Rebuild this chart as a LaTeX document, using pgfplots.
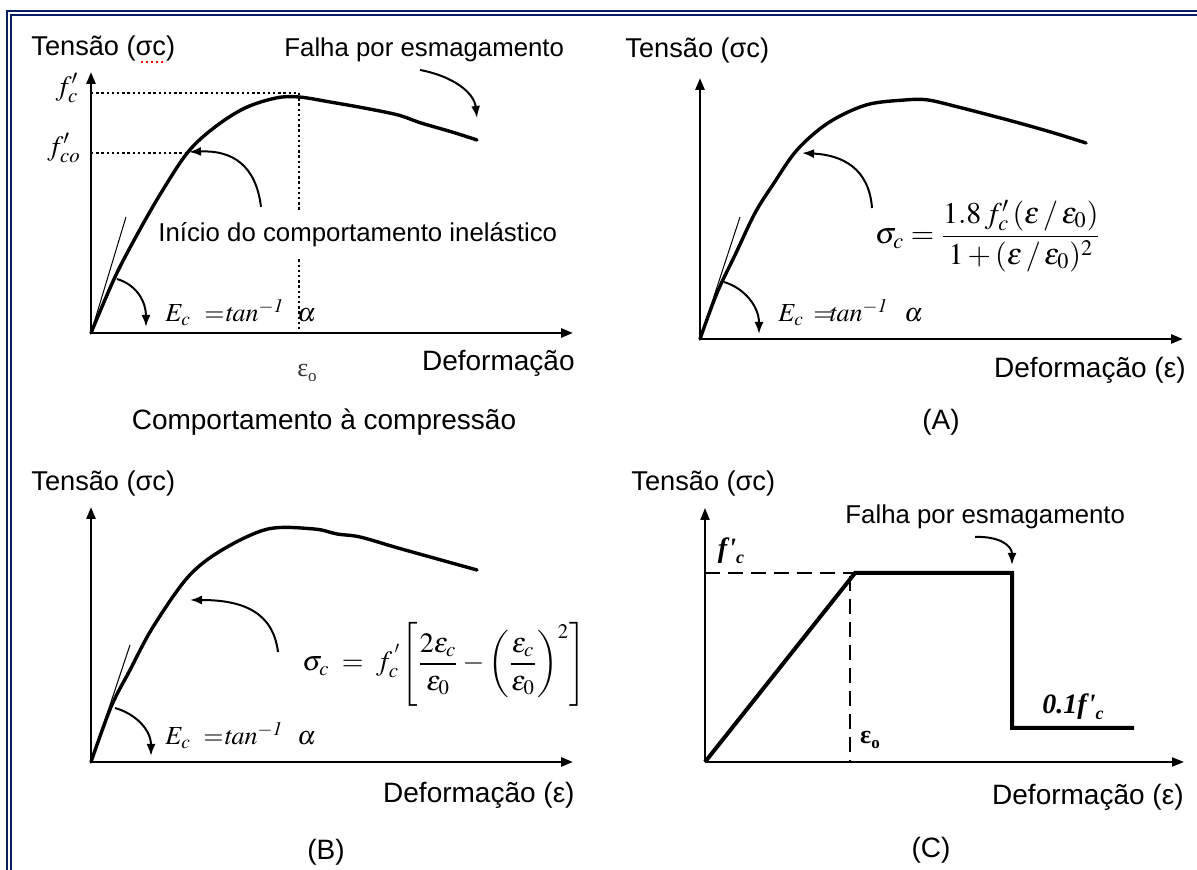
\documentclass[border=0pt]{standalone}
\usepackage{mathptmx}
\usepackage[no-math]{fontspec}
\setmainfont{Liberation Sans}
\newfontfamily\serif{Liberation Serif}
\usepackage{pgfplots}
\pgfplotsset{compat=1.18}
\usetikzlibrary{arrows.meta}
\definecolor{navy}{RGB}{10,30,100}
\newcommand\fs[1]{\fontsize{#1}{#1}\selectfont}

\pgfplotsset{
  panel/.style={
    x=0.5pt, y=0.5pt, xmin=0, ymin=0,
    axis lines=left, ticks=none, clip=false, enlargelimits=false,
    axis line style={line width=1.3pt, -{Triangle[length=6pt,width=4.5pt]}},
    anchor=south west,
  },
  curve/.style={black, mark=none, line width=1.7pt, smooth, tension=0.55,
    line cap=round, line join=round},
  dotline/.style={black, mark=none, line width=0.8pt,
    dash pattern=on 1.2pt off 1.4pt},
  dashline/.style={black, mark=none, line width=0.8pt,
    dash pattern=on 7.5pt off 4pt},
}
\tikzset{
  note/.style={-{Latex[length=6pt,width=4.5pt]}, line width=1pt},
  lbl/.style={inner sep=0pt},
}

\begin{document}
\begin{tikzpicture}
% frame
\begin{scope}[x=0.5pt,y=-0.5pt,shift={(0pt,435pt)}]
  \useasboundingbox (0,0) rectangle (1197,870);
  \draw[navy,line width=1pt] (7,875) -- (7,11) -- (1200,11);
  \draw[navy,line width=1pt] (11,875) -- (11,15) -- (1200,15);
\end{scope}

% ---- compression behaviour
\begin{axis}[panel, at={(45.5pt,268.5pt)}, xmax=482, ymax=261]
  \addplot[dotline] coordinates {(0,240) (208,240)};
  \addplot[dotline] coordinates {(0,180) (97,180)};
  \addplot[dotline] coordinates {(208,240) (208,0)};
  \addplot[curve] coordinates {
    (0,0) (24,56) (47,100) (70,140) (97,181) (124,206) (154,225)
    (185,235) (208,236) (239,231) (273,225) (307,218) (330,210)
    (361,201) (386,193)};
\end{axis}

% ---- (A)
\begin{axis}[panel, at={(350pt,265.5pt)}, xmax=483, ymax=261]
  \addplot[curve] coordinates {
    (0,0) (17,46) (36,86) (55,126) (74,156) (97,189) (128,216)
    (166,234) (205,239) (228,239) (258,232) (289,224) (319,216)
    (354,206) (386,196)};
\end{axis}

% ---- (B)
\begin{axis}[panel, at={(45.5pt,54pt)}, xmax=482, ymax=255]
  \addplot[curve] coordinates {
    (0,0) (20,55) (39,92) (62,135) (97,185) (131,212) (177,233)
    (223,233) (246,228) (269,225) (307,214) (350,202) (386,192)};
\end{axis}

% ---- (C)
\begin{axis}[panel, at={(352.5pt,54pt)}, xmax=479, ymax=254,
    axis line style={line width=1pt}]
  \addplot[dashline] coordinates {(0,189) (150,189)};
  \addplot[dashline] coordinates {(145,186) (145,0)};
  \addplot[black, mark=none, line width=2pt, line join=miter] coordinates {
    (0,0) (150,189) (307,189) (307,34) (429,34)};
\end{axis}

% annotations
\begin{scope}[x=0.5pt,y=-0.5pt,shift={(0pt,435pt)}]
  % compression behaviour
  \node[lbl,anchor=west,font=\fs{13.6}] at (31,48) {Tensão (σc)};
  \draw[red, line width=0.9pt, dash pattern=on 0.9pt off 1.6pt] (141,62) -- (166,62);
  \node[lbl,anchor=west,font=\fs{12.9}] at (284,50) {Falha por esmagamento};
  \node[lbl,anchor=west,font=\fs{12.9},fill=white,inner ysep=5pt] at (158,235) {Início do comportamento inelástico};
  \node[lbl,anchor=east,font=\fs{14}] at (575,363) {Deformação};
  \node[lbl,font=\fs{14}] at (324,422) {Comportamento à compressão};
  \node[lbl,font=\fs{14}] at (67,88) {$f'_c$};
  \node[lbl,font=\fs{14}] at (64,148) {$f'_{co}$};
  \node[lbl,anchor=base west,font=\fs{13}] at (165,322) {$E_c$};
  \node[lbl,anchor=base west,font=\fs{13}] at (204,322) {$=$};
  \node[lbl,anchor=base west,font=\fs{13}] at (225,322) {$\mathit{tan}^{\mathit{-1}}$};
  \node[lbl,anchor=base west,font=\fs{13}] at (297,322) {$\alpha$};
  \node[lbl,font=\fs{13}\serif,text=black!80] at (307,373) {ε\raisebox{-0.35ex}{\fs{8.5}o}};
  \draw[note] (261,207) .. controls (256,165) and (232,150) .. (189,152);
  \draw[note] (420,70) .. controls (452,76) and (474,92) .. (477,118);
  \draw[line width=0.5pt] (91,333) -- (126,217);
  \draw[note] (117,279) .. controls (137,285) and (146,302) .. (146,327);

  % (A)
  \node[lbl,anchor=west,font=\fs{13.6}] at (625,50) {Tensão (σc)};
  \node[lbl,font=\fs{15}] at (988,236)
    {$\sigma_c=\displaystyle\frac{1.8\,f'_c\,(\varepsilon\,/\,\varepsilon_0)}{1+(\varepsilon\,/\,\varepsilon_0)^2}$};
  \node[lbl,anchor=base west,font=\fs{13}] at (778,322) {$E_c$};
  \node[lbl,anchor=base west,font=\fs{13}] at (813,322) {$=$};
  \node[lbl,anchor=base west,font=\fs{13}] at (829,322) {$\mathit{tan}^{\mathit{-1}}$};
  \node[lbl,anchor=base west,font=\fs{13}] at (904,322) {$\alpha$};
  \node[lbl,anchor=east,font=\fs{14}] at (1186,370) {Deformação (ε)};
  \node[lbl,font=\fs{14}] at (941,422) {(A)};
  \draw[note] (872,208) .. controls (869,168) and (842,155) .. (802,153);
  \draw[line width=0.5pt] (700,339) -- (740,217);
  \draw[note] (724,282) .. controls (744,288) and (759,306) .. (759,334);

  % (B)
  \node[lbl,anchor=west,font=\fs{13.6}] at (31,483) {Tensão (σc)};
  \node[lbl,anchor=west,font=\fs{14}] at (302,664)
    {$\sigma_c\;=\;f_c^{\,'}\!\left[\displaystyle\frac{2\varepsilon_c}{\varepsilon_0}-\left(\frac{\varepsilon_c}{\varepsilon_0}\right)^{2}\right]$};
  \node[lbl,anchor=base west,font=\fs{13}] at (165,745) {$E_c$};
  \node[lbl,anchor=base west,font=\fs{13}] at (203,745) {$=$};
  \node[lbl,anchor=base west,font=\fs{13}] at (224,745) {$\mathit{tan}^{\mathit{-1}}$};
  \node[lbl,anchor=base west,font=\fs{13}] at (297,745) {$\alpha$};
  \node[lbl,anchor=east,font=\fs{14}] at (575,795) {Deformação (ε)};
  \node[lbl,font=\fs{14}] at (326,852) {(B)};
  \draw[note] (278,652) .. controls (273,612) and (243,600) .. (190,600);
  \draw[line width=0.5pt] (91,762) -- (130,645);
  \draw[note] (115,708) .. controls (136,714) and (151,730) .. (151,756);

  % (C)
  \node[lbl,anchor=west,font=\fs{13.6}] at (631,483) {Tensão (σc)};
  \node[lbl,anchor=west,font=\fs{12.9}] at (845,517) {Falha por esmagamento};
  \node[lbl,font=\fs{14}\serif\itshape\bfseries] at (731,551) {f\kern0.5pt'\raisebox{-0.45ex}{\fs{9}c}};
  \node[lbl,font=\fs{13}\serif\bfseries] at (870,740) {ε\raisebox{-0.35ex}{\fs{8.5}o}};
  \node[lbl,font=\fs{14}\serif\itshape\bfseries] at (1073,707) {0.1f\kern0.5pt'\raisebox{-0.45ex}{\fs{9}c}};
  \node[lbl,anchor=east,font=\fs{14}] at (1184,797) {Deformação (ε)};
  \node[lbl,font=\fs{14}] at (931,850) {(C)};
  \draw[note] (975,537) .. controls (998,536) and (1012,545) .. (1012,565);
\end{scope}
\end{tikzpicture}
\end{document}
